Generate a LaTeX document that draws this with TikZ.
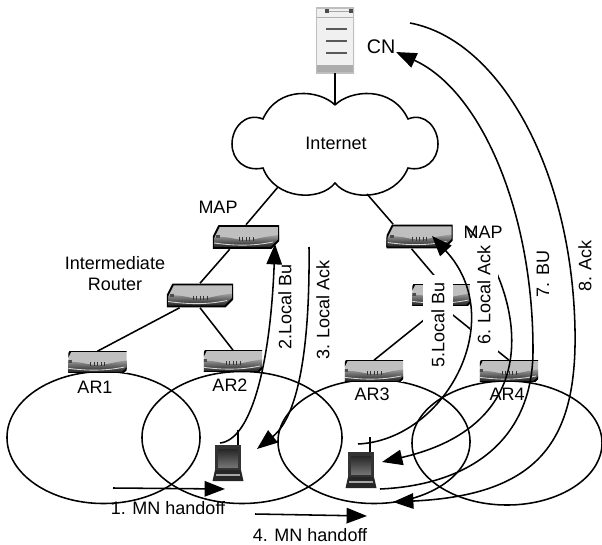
\documentclass[tikz,border=0pt]{standalone}
\usepackage{fontspec}
\setmainfont{Liberation Sans}
\usetikzlibrary{shapes.geometric,arrows.meta,positioning,calc}

\begin{document}
\begin{tikzpicture}[x=0.025cm,y=-0.025cm]
  \tikzstyle{label}=[inner sep=0pt, font=\fontsize{12.8}{15}\selectfont]
  \tikzstyle{vlabel}=[label, rotate=90]
  \tikzstyle{cutlabel}=[vlabel, fill=white]
  \tikzstyle{cell}=[ellipse, draw, line width=1.1pt, inner sep=0pt]
  \tikzstyle{link}=[line width=1.1pt]
  \tikzstyle{msg}=[line width=1.1pt]
  \tikzstyle{tip}=[-{Triangle[length=14.5pt,width=11pt]}]
  \tikzstyle{router}=[inner sep=0pt, minimum width=#1*1.65cm, minimum height=#1*0.6cm, path picture={
    \begin{scope}[shift={(path picture bounding box.center)}, scale=#1]
      \fill[white] (-34,-13) rectangle (34,13);
      \fill[gray!50] (-33,1) -- (-27,-11) -- (33,-11) -- (33,3) -- (25,11) -- (-33,11) -- cycle;
      \shade[top color=gray!75, bottom color=black!90] (-33,0) .. controls (-15,-1) and (-12,3) .. (0,3) .. controls (10,3) and (14,0) .. (33,-2) -- (33,3) -- (25,11) -- (-33,11) -- cycle;
      \draw[gray!30, line width=0.6pt] (-32,6) .. controls (-10,9) and (8,9) .. (27,5);
      \foreach \i in {-7,-3.5,...,8} \draw[black!80, line width=0.7pt] (\i,0) -- (\i,4);
      \fill[black!70] (-30,-2) rectangle (-26,1);
      \draw[line width=1.4pt, line join=round] (-33,1) -- (-27,-11) -- (33,-11) -- (33,3) -- (25,11) -- (-33,11) -- cycle;
    \end{scope}}]
  \tikzstyle{laptop}=[inner sep=0pt, minimum width=0.78cm, minimum height=0.9cm, path picture={
    \begin{scope}[shift={(path picture bounding box.center)}]
      \fill[black!80] (-13,-18) rectangle (13,8);
      \shade[top color=black!85, bottom color=black!55] (-10,-14) rectangle (10,4);
      \fill[black!85] (-13,7) -- (13,7) -- (15.5,18) -- (-15.5,18) -- cycle;
      \fill[gray!70] (-12,10.5) rectangle (12,12.5);
    \end{scope}}]
  \tikzstyle{server}=[inner sep=0pt, minimum width=0.95cm, minimum height=1.625cm, path picture={
    \begin{scope}[shift={(path picture bounding box.center)}]
      \fill[gray!12] (-19,-32.5) rectangle (19,32.5);
      \draw[gray!60] (-19,-23) -- (19,-23);
      \fill[black!70] (-10,-31) rectangle (-6,-27);
      \fill[black!70] (14,-31) rectangle (18,-27);
      \draw[gray!70] (-6,-29) -- (14,-29);
      \foreach \y in {-11.5,0.5,12.5} \draw[gray!70!black, line width=0.8pt] (-9,\y) -- (12,\y);
      \fill[gray!65] (-19,25) rectangle (19,32.5);
      \draw[gray!50, line width=1pt] (-19,-32.5) rectangle (19,32.5);
    \end{scope}}]

  \useasboundingbox (0,0) rectangle (602,544);

  % Celdas de acceso
  \node[cell, minimum width=4.825cm, minimum height=3.3cm] (cell1) at (103.5,437.5) {};
  \node[cell, minimum width=5cm, minimum height=3.3cm] (cell2) at (242,437.5) {};
  \node[cell, minimum width=4.8cm, minimum height=3.1cm] (cell3) at (374,441.5) {};
  \node[cell, minimum width=4.75cm, minimum height=3.1cm] (cell4) at (507,443) {};

  % Nube
  \draw[link] (335,105) .. controls (350,90) and (392,85) .. (408,119)
    .. controls (425,112) and (438,128) .. (438,144) .. controls (438,160) and (425,172) .. (408,168)
    .. controls (395,200) and (350,202) .. (335,183) .. controls (320,202) and (275,200) .. (263,168)
    .. controls (245,172) and (232,160) .. (232,144) .. controls (232,128) and (245,112) .. (263,119)
    .. controls (278,85) and (320,90) .. (335,105);
  \node[label] (internet) at (336,143) {Internet};
  \coordinate (cloudtop) at (335,105);
  \coordinate (cloudleft) at (278,187);
  \coordinate (cloudright) at (367,194);

  % Equipos
  \node[server] (cn) at (335,40.5) {};
  \node[router=1] (map1) at (246,237) {};
  \node[router=1] (ir1) at (200,295.5) {};
  \node[router=0.88] (ar1) at (97.5,362) {};
  \node[router=0.88] (ar2) at (233,361) {};
  \node[router=1] (map2) at (419.5,236.5) {};
  \node[router=0.88] (ir2) at (441.5,295) {};
  \node[router=0.88] (ar3) at (374,371) {};
  \node[router=0.88] (ar4) at (509,371) {};
  \node[laptop] (mn1) at (228,463) {};
  \node[laptop] (mn2) at (361,470) {};

  \draw[link] (cn.south) -- (cloudtop);
  \draw[link] (cloudleft) -- (map1.north);
  \draw[link] (cloudright) -- (map2.155);
  \draw[link] (map1.-143) -- (ir1.north);
  \draw[link] (ir1.-149) -- (ar1.north);
  \draw[link] (ir1.south) -- (ar2.north);
  \draw[link] (map2.-123) -- (ir2.north);
  \draw[link] (ir2.south) -- (ar3.north);
  \draw[link] (ir2.south) -- (ar4.north);

  % Puntos de los mensajes
  \coordinate (ant1) at (238,430);
  \coordinate (ant2) at (370,437);
  \coordinate (s2) at (220,443);
  \coordinate (s3) at (309,247);
  \coordinate (s5) at (358,444);
  \coordinate (s6) at (467,227);
  \coordinate (s7) at (380,489);
  \coordinate (s8) at (410,23);
  \coordinate (e2) at (275,244);
  \coordinate (e3) at (257,449);
  \coordinate (e5) at (432,236);
  \coordinate (e6) at (382,462);
  \coordinate (e7) at (396,52);
  \coordinate (e8) at (393,502);
  \coordinate (h1a) at (113,488);
  \coordinate (h1b) at (225,489);
  \coordinate (h4a) at (255,514);
  \coordinate (h4b) at (367,516);
  \draw[link] (ant1) -- (ant1 |- mn1.north);
  \draw[link] (ant2) -- (ant2 |- mn2.north);

  % Mensajes
  \draw[msg, tip] (s6) .. controls (510,270) and (565,420) .. (e6);
  \node[cutlabel, minimum width=2.85cm, minimum height=0.7cm] (lab6) at (484,295) {6. Local Ack};
  \node[cutlabel, minimum width=2.5cm, minimum height=0.75cm] (lab5) at (438,325) {5.Local Bu};

  \draw[msg, tip] (s2) .. controls (250,440) and (270,370) .. (e2);
  \draw[msg, tip] (s3) .. controls (310,340) and (300,415) .. (e3);
  \draw[msg, tip] (s5) .. controls (445,440) and (510,320) .. (e5);
  \draw[msg, tip] (s7) .. controls (470,485) and (533,440) .. (533,350) .. controls (533,210) and (480,90) .. (e7);
  \draw[msg, tip] (s8) .. controls (500,40) and (572,170) .. (575,330) .. controls (577,440) and (540,495) .. (e8);
  \draw[msg, tip] (h1a) -- (h1b);
  \draw[msg, tip] (h4a) -- (h4b);

  % Etiquetas
  \node[label, font=\fontsize{14}{16}\selectfont] (cnlab) at (381,47) {CN};
  \node[label] (map1lab) at (218,207) {MAP};
  \node[label] (map2lab) at (483,232) {MAP};
  \node[label, align=center] (irlab) at (115,273.5) {Intermediate\\Router};
  \node[label] (ar1lab) at (95,387) {AR1};
  \node[label] (ar2lab) at (230,385) {AR2};
  \node[label] (ar3lab) at (372,394) {AR3};
  \node[label] (ar4lab) at (507,394) {AR4};
  \node[vlabel] (lab2) at (285,307) {2.Local Bu};
  \node[vlabel] (lab3) at (323,310) {3. Local Ack};
  \node[vlabel] (lab7) at (543,274) {7. BU};
  \node[vlabel] (lab8) at (585,266) {8. Ack};
  \node[label] (lab1) at (168,508) {1. MN handoff};
  \node[label] (lab4) at (310,535) {4. MN handoff};
\end{tikzpicture}
\end{document}
